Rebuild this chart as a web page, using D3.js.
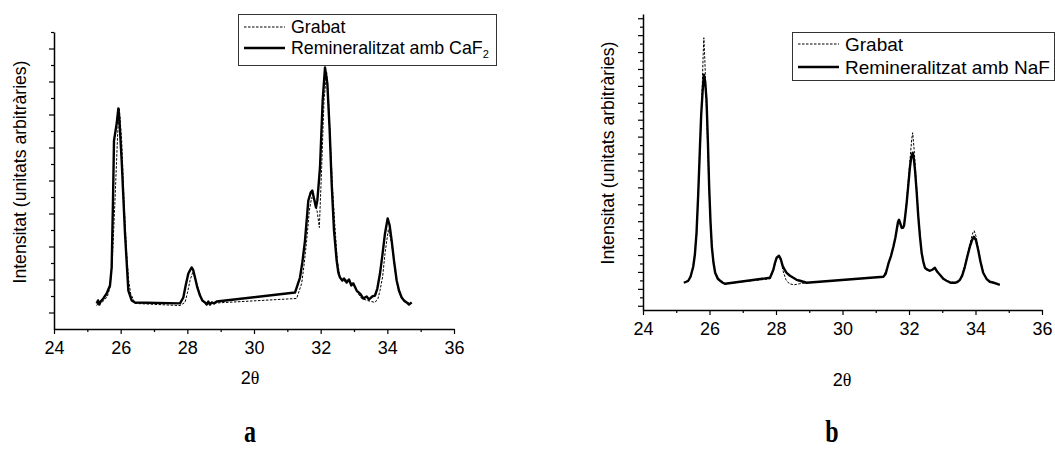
<!DOCTYPE html>
<html>
<head>
<meta charset="utf-8">
<script src="https://cdn.jsdelivr.net/npm/d3@7"></script>
<style>
  html, body { margin: 0; padding: 0; background: #fff; }
  svg { display: block; }
  text { font-family: "Liberation Sans", Arial, sans-serif; fill: #000; }
</style>
</head>
<body>
<svg id="chart" width="1055" height="450"></svg>
<script>
// X-ray diffraction patterns: 2θ (degrees) vs intensity (arbitrary units)
const xTickValues = [24, 25, 26, 27, 28, 29, 30, 31, 32, 33, 34, 35, 36];
const xTickLabels = ["24", "", "26", "", "28", "", "30", "", "32", "", "34", "", "36"];
const seriesNames = ["Grabat", "Remineralitzat amb "];
const panelLetters = ["a", "b"];
const fluorideAgents = [["CaF", "2"], ["NaF", ""]];

// Panel a — etched enamel (Grabat) and after CaF2 remineralisation
const grabatA = [
  [25.28, 0.42], [25.34, 0.61], [25.40, 0.55], [25.50, 0.73], [25.60, 0.97], [25.68, 1.52],
  [25.75, 3.15], [25.83, 6.79], [25.91, 10.85], [25.96, 12.36], [26.03, 10.42], [26.10, 6.79],
  [26.18, 3.58], [26.24, 1.94], [26.30, 1.15], [26.43, 0.55], [27.78, 0.42], [27.93, 0.61],
  [28.00, 1.15], [28.08, 1.94], [28.16, 2.42], [28.22, 2.18], [28.28, 1.76], [28.36, 1.21],
  [28.43, 0.85], [28.53, 0.61], [28.63, 0.55], [31.28, 0.85], [31.43, 1.76], [31.50, 2.85],
  [31.58, 4.36], [31.66, 6.18], [31.73, 6.97], [31.83, 6.79], [31.90, 6.06], [31.96, 5.15],
  [32.03, 8.79], [32.10, 12.85], [32.18, 14.55], [32.23, 13.15], [32.28, 10.85], [32.36, 7.39],
  [32.43, 5.15], [32.50, 3.15], [32.58, 2.12], [32.70, 1.88], [32.80, 2.00], [32.90, 1.76],
  [32.98, 1.82], [33.10, 1.21], [33.23, 0.85], [33.40, 0.73], [33.63, 0.61], [33.72, 0.85],
  [33.78, 1.33], [33.86, 2.18], [33.93, 3.58], [34.03, 5.03], [34.10, 4.48], [34.16, 3.76],
  [34.25, 2.24], [34.33, 1.33], [34.43, 0.85], [34.53, 0.61], [34.73, 0.55]
];
const remineralCaF2 = [
  [25.28, 0.55], [25.32, 0.73], [25.36, 0.48], [25.40, 0.67], [25.48, 0.85], [25.58, 1.15],
  [25.68, 1.64], [25.73, 2.73], [25.77, 6.79], [25.80, 10.42], [25.88, 11.45], [25.93, 12.36],
  [25.96, 11.76], [26.03, 9.21], [26.13, 4.79], [26.23, 1.33], [26.33, 0.73], [26.43, 0.61],
  [27.78, 0.55], [27.88, 0.91], [27.95, 1.64], [28.03, 2.36], [28.08, 2.55], [28.13, 2.73],
  [28.18, 2.55], [28.23, 2.12], [28.30, 1.52], [28.38, 1.03], [28.45, 0.73], [28.53, 0.61],
  [28.58, 0.48], [28.63, 0.67], [28.68, 0.48], [28.73, 0.61], [28.80, 0.55], [28.88, 0.67],
  [31.23, 1.21], [31.38, 2.12], [31.45, 3.03], [31.53, 4.36], [31.63, 6.79], [31.70, 7.27],
  [31.75, 7.39], [31.78, 7.09], [31.86, 6.36], [31.90, 6.79], [31.93, 7.52], [31.98, 8.79],
  [32.06, 12.85], [32.13, 14.85], [32.20, 13.88], [32.27, 11.03], [32.33, 7.82], [32.40, 4.97],
  [32.48, 3.15], [32.53, 2.42], [32.58, 2.12], [32.65, 1.94], [32.70, 2.06], [32.78, 1.82],
  [32.85, 2.00], [32.92, 1.64], [32.98, 1.76], [33.08, 1.33], [33.18, 1.15], [33.28, 0.85],
  [33.38, 0.97], [33.45, 0.79], [33.55, 0.97], [33.63, 1.03], [33.70, 1.45], [33.78, 2.36],
  [33.85, 3.45], [33.93, 4.79], [34.01, 5.70], [34.07, 5.27], [34.13, 4.36], [34.20, 3.15],
  [34.28, 1.94], [34.35, 1.33], [34.43, 0.91], [34.50, 0.73], [34.58, 0.61], [34.65, 0.48],
  [34.73, 0.61]
];

// Panel b — etched enamel (Grabat) and after NaF remineralisation
const grabatB = [
  [25.23, 2.72], [25.36, 2.84], [25.51, 4.49], [25.61, 8.28], [25.71, 17.86], [25.77, 24.36],
  [25.81, 29.68], [25.83, 31.69], [25.86, 29.09], [25.91, 23.18], [25.97, 15.49], [26.03, 9.93],
  [26.10, 5.68], [26.17, 3.90], [26.32, 2.96], [26.47, 2.60], [27.82, 3.19], [27.92, 4.14],
  [28.02, 5.56], [28.09, 5.79], [28.15, 5.20], [28.22, 4.02], [28.30, 3.07], [28.40, 2.60],
  [28.55, 2.48], [28.70, 2.60], [28.92, 2.72], [31.23, 3.43], [31.38, 4.85], [31.53, 6.86],
  [31.63, 8.87], [31.70, 10.05], [31.78, 9.10], [31.85, 9.34], [31.93, 12.53], [32.03, 17.26],
  [32.08, 19.63], [32.11, 20.46], [32.15, 18.68], [32.20, 15.84], [32.28, 10.76], [32.38, 6.39],
  [32.48, 4.49], [32.63, 4.14], [32.78, 4.49], [32.93, 3.67], [33.13, 2.96], [33.38, 2.72],
  [33.53, 3.07], [33.68, 4.73], [33.83, 7.33], [33.92, 8.63], [33.96, 8.87], [34.02, 8.16],
  [34.10, 6.39], [34.23, 4.02], [34.33, 3.19], [34.43, 2.84], [34.73, 2.48]
];
const remineralNaF = [
  [25.23, 2.72], [25.30, 2.84], [25.36, 2.96], [25.43, 3.43], [25.51, 4.61], [25.56, 6.03],
  [25.61, 8.63], [25.66, 13.13], [25.71, 18.45], [25.75, 22.59], [25.79, 25.19], [25.83, 27.31],
  [25.87, 26.49], [25.91, 24.36], [25.95, 19.63], [25.99, 14.07], [26.03, 9.93], [26.07, 6.98],
  [26.12, 5.08], [26.17, 3.90], [26.25, 3.19], [26.32, 2.96], [26.40, 2.72], [26.47, 2.60],
  [27.82, 3.31], [27.92, 4.26], [27.97, 5.08], [28.02, 5.68], [28.09, 5.91], [28.14, 5.56],
  [28.20, 4.73], [28.26, 4.26], [28.32, 3.90], [28.42, 3.55], [28.52, 3.31], [28.62, 3.07],
  [28.72, 2.96], [28.82, 2.84], [28.92, 2.72], [31.23, 3.43], [31.30, 3.78], [31.38, 4.97],
  [31.46, 5.91], [31.53, 6.98], [31.59, 8.04], [31.63, 8.99], [31.67, 9.93], [31.70, 10.17],
  [31.74, 9.70], [31.78, 9.22], [31.82, 9.22], [31.85, 9.46], [31.89, 10.76], [31.93, 12.18],
  [31.98, 14.31], [32.03, 16.44], [32.07, 17.62], [32.11, 18.09], [32.15, 17.26], [32.18, 16.08],
  [32.23, 13.48], [32.28, 10.52], [32.33, 8.16], [32.38, 6.27], [32.43, 5.20], [32.48, 4.49],
  [32.55, 4.26], [32.63, 4.14], [32.70, 4.26], [32.78, 4.49], [32.85, 4.02], [32.93, 3.67],
  [33.03, 3.19], [33.13, 2.96], [33.25, 2.72], [33.38, 2.72], [33.47, 2.84], [33.53, 3.07],
  [33.60, 3.55], [33.68, 4.61], [33.76, 5.91], [33.83, 6.98], [33.90, 7.80], [33.95, 8.16],
  [34.01, 7.80], [34.08, 6.62], [34.15, 5.20], [34.23, 3.90], [34.33, 3.19], [34.43, 2.84],
  [34.55, 2.72], [34.65, 2.60], [34.73, 2.48]
];

// Layout for the two panels
const panels = [
  {
    etched: grabatA, treated: remineralCaF2, agent: fluorideAgents[0], letter: panelLetters[0],
    left: 54, right: 454, top: 32, bottom: 329,
    yDomain: [-1, 17], yTicks: d3.range(0, 18),
    yLabelX: 20, yLabelY: 172, thetaX: 250, thetaY: 384, letterX: 250,
    legend: { x: 238, y: 14, w: 258, h: 51, font: 17.8, row1: 27, row2: 48 }
  },
  {
    etched: grabatB, treated: remineralNaF, agent: fluorideAgents[1], letter: panelLetters[1],
    left: 643, right: 1042, top: 14, bottom: 310,
    yDomain: [-0.5, 34.5], yTicks: d3.range(0, 35),
    yLabelX: 608, yLabelY: 153, thetaX: 842, thetaY: 386, letterX: 832,
    legend: { x: 792, y: 32, w: 262, h: 48, font: 19, row1: 44, row2: 67 }
  }
];

const svg = d3.select("#chart");

panels.forEach(p => {
  const g = svg.append("g");
  const x = d3.scaleLinear().domain([24, 36]).range([p.left, p.right]);
  const y = d3.scaleLinear().domain(p.yDomain).range([p.bottom, p.top]);

  // bottom axis: labelled major ticks every 2°, minor ticks in between
  const xAxis = d3.axisBottom(x)
    .tickValues(xTickValues)
    .tickFormat((d, i) => xTickLabels[i])
    .tickSizeInner(5).tickSizeOuter(0).tickPadding(7);
  const gx = g.append("g").attr("transform", `translate(0,${p.bottom})`).call(xAxis);
  gx.selectAll(".tick line").attr("y2", d => (d % 2 === 0 ? 5 : 3));
  gx.selectAll("text").style("font-size", "18px").style("font-family", "Liberation Sans, Arial, sans-serif");
  gx.select(".domain").attr("stroke-width", 1.5);
  gx.selectAll(".tick line").attr("stroke-width", 1.2);

  // left axis: unlabeled intensity ticks, alternating long/short
  const yAxis = d3.axisLeft(y)
    .tickValues(p.yTicks).tickFormat("")
    .tickSizeInner(5).tickSizeOuter(0);
  const gy = g.append("g").attr("transform", `translate(${p.left},0)`).call(yAxis);
  gy.selectAll(".tick line").attr("x2", d => (d % 2 === 0 ? -5 : -3)).attr("stroke-width", 1.2);
  gy.select(".domain").attr("stroke-width", 1.5);

  const line = d3.line().x(d => x(d[0])).y(d => y(d[1]));

  g.append("path").datum(p.etched)
    .attr("d", line).attr("fill", "none").attr("stroke", "#000")
    .attr("stroke-width", 1).attr("stroke-dasharray", "2.5,1.5");
  g.append("path").datum(p.treated)
    .attr("d", line).attr("fill", "none").attr("stroke", "#000")
    .attr("stroke-width", 2.4).attr("stroke-linejoin", "round");

  // axis titles
  g.append("text")
    .attr("transform", `translate(${p.yLabelX},${p.yLabelY}) rotate(-90)`)
    .attr("text-anchor", "middle").attr("dominant-baseline", "central")
    .style("font-size", "17.6px")
    .text("Intensitat (unitats arbitràries)");
  const tt = g.append("text").attr("x", p.thetaX).attr("y", p.thetaY)
    .attr("text-anchor", "middle").style("font-size", "18px");
  tt.append("tspan").text("2");
  tt.append("tspan").style("font-family", "Liberation Serif, Times New Roman, serif").text("θ");

  // panel letter
  g.append("text")
    .attr("transform", `translate(${p.letterX},442) scale(1,1.35)`)
    .attr("text-anchor", "middle")
    .style("font-family", "Liberation Serif, Times New Roman, serif")
    .style("font-weight", "bold").style("font-size", "24px")
    .text(p.letter);

  // legend
  const L = p.legend;
  const lg = g.append("g");
  lg.append("rect").attr("x", L.x + 0.5).attr("y", L.y + 0.5).attr("width", L.w).attr("height", L.h)
    .attr("fill", "#fff").attr("stroke", "#333").attr("stroke-width", 1);
  lg.append("line").attr("x1", L.x + 6).attr("x2", L.x + 47).attr("y1", L.row1).attr("y2", L.row1)
    .attr("stroke", "#000").attr("stroke-width", 1).attr("stroke-dasharray", "2.5,1.5");
  lg.append("line").attr("x1", L.x + 6).attr("x2", L.x + 47).attr("y1", L.row2).attr("y2", L.row2)
    .attr("stroke", "#000").attr("stroke-width", 2.4);
  lg.append("text").attr("x", L.x + 53).attr("y", L.row1).attr("dominant-baseline", "central")
    .style("font-size", L.font + "px").text(seriesNames[0]);
  const t2 = lg.append("text").attr("x", L.x + 53).attr("y", L.row2).attr("dominant-baseline", "central")
    .style("font-size", L.font + "px");
  t2.append("tspan").text(seriesNames[1] + p.agent[0]);
  if (p.agent[1]) {
    t2.append("tspan").attr("dy", 6).style("font-size", (L.font * 0.62) + "px").text(p.agent[1]);
  }
});
</script>
</body>
</html>
